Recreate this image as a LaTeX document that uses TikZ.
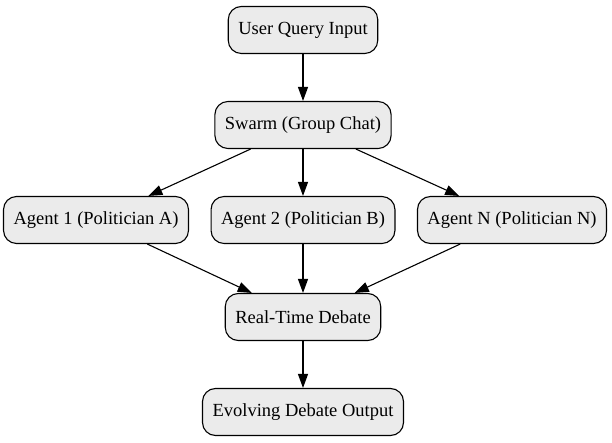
\documentclass[tikz,border=0pt]{standalone}
\usepackage{fontspec}
\setmainfont{Liberation Serif}
\usetikzlibrary{arrows.meta}
\definecolor{boxgray}{RGB}{235,235,235}

\begin{document}
\begin{tikzpicture}[x = 1pt, y = -1pt,
    box/.style = {draw, fill=boxgray, line width=1.1pt, rounded corners=13pt, minimum height=47pt, inner xsep=10pt, font=\fontsize{18.5}{22}\selectfont},
    link/.style = {line width=1.1pt, -{Triangle[length=14pt,width=10pt]}}]
    \useasboundingbox (0,0) rectangle (612,443);
    \node[box, minimum width=148pt] (query) at (303,30) {User Query Input};
    \node[box, minimum width=176pt] (swarm) at (303,125) {Swarm (Group Chat)};
    \node[box, minimum width=183pt] (agentA) at (96,220) {Agent 1 (Politician A)};
    \node[box, minimum width=182pt] (agentB) at (303,220) {Agent 2 (Politician B)};
    \node[box, minimum width=187pt] (agentN) at (512,220) {Agent N (Politician N)};
    \node[box, minimum width=155pt] (debate) at (303,317) {Real-Time Debate};
    \node[box, minimum width=201pt] (output) at (303,412) {Evolving Debate Output};
    \draw[link] (query) -- (swarm);
    \draw[link] (swarm) -- (agentA);
    \draw[link] (swarm) -- (agentB);
    \draw[link] (swarm) -- (agentN);
    \draw[link] (agentA) -- (debate);
    \draw[link] (agentB) -- (debate);
    \draw[link] (agentN) -- (debate);
    \draw[link] (debate) -- (output);
\end{tikzpicture}
\end{document}
